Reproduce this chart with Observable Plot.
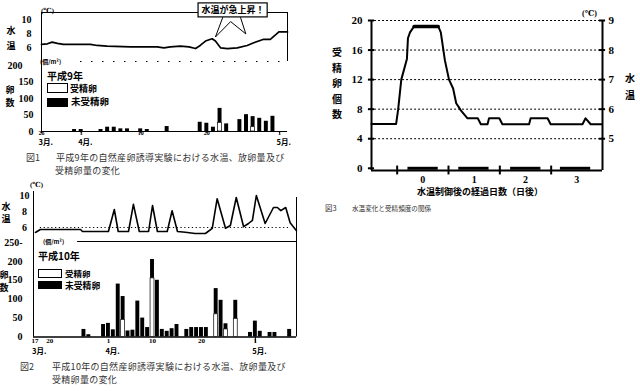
<!DOCTYPE html>
<html><head><meta charset="utf-8">
<script src="https://cdn.jsdelivr.net/npm/d3@7"></script>
<script src="https://cdn.jsdelivr.net/npm/@observablehq/plot@0.6"></script>
<style>
body{margin:0;background:#fff;}
#page{position:relative;width:640px;height:391px;overflow:hidden;background:#fff;}
</style></head><body><div id="page"></div>
<script>
// ---------- Figure 1 (平成9年) : day 0 = 3月26日 ----------
const f1TempDay = [0,0.9,1.6,2.4,3.3,7.4,8.4,9.9,13.5,17.5,18.5,19.5,21,22.3,23.3,24,24.8,25.8,26.3,27.1,28.1,29.6,31.1,32.1,33.6,34.6,35.9,37.2];
const f1Temp    = [6.44,6.53,6.77,6.58,6.44,6.44,6.29,6.19,6.09,6.09,5.94,6.09,6.19,6.09,5.85,6.29,6.92,7.25,6.92,5.94,5.85,5.94,6.29,6.67,7.17,7.17,8.23,8.23];
const f1EggDay   = [5,6,9,10,11,12,13,15,16,19,24,25,26,27,28,30,31,32,33,34,35];
const f1EggTotal = [6,6,6,13,13,8,8,8,6,15,28,25,13,70,23,36,51,45,40,31,46];
const f1EggFert  = [0,0,0,0,0,0,0,0,0,0,0,0,0,26,0,0,0,13,0,0,0];
const f1TempTicks = [6,8,10];
const f1EggTicks = [0,50,100,150];
const f1EggTop = [200];
const f1TickDays = [0,6,15,25,36];
const f1TickNum = ["26","1","10","20","1"];
const f1TickMonth = ["3月.","4月.","","","5月."];
const calloutText = "水温が急上昇！";
const callBox = {x1:23.75,x2:34.2,y1:10.3,y2:12.3};
const callTail = [{d:27.4,t:10.27},{d:26.3,t:7.5},{d:28.6,t:9.7},{d:30.9,t:7.94},{d:30.1,t:10.27}];

// ---------- Figure 2 (平成10年) : day 0 = 3月17日 ----------
const f2TempDay = [0.1,1.1,9.3,9.7,15,16.2,17,19.1,20.1,21.3,23.2,24,25,27,28,29.1,30.7,32.7,34.8,36.2,37.2,38.9,39.9,41.1,42.6,43.6,44.4,45.2,47,48.7,49.5,50.2,51.2,52.1,53.4];
const f2Temp    = [5.38,5.75,5.75,5.5,5.5,8.25,5.5,5.5,8.9,5.5,5.5,8.75,5.5,5.5,8.1,5.5,5.4,5.25,5.25,5.9,9.6,5.9,6.25,9.75,6.1,6.5,6.9,10,6.5,8.5,8.5,8.1,8.5,6.6,5.6];
const f2EggDay   = [10,11,14,15,16,17,18,19,20,21,22,23,24,25,26,27,28,29,31,32,33,34,35,37,38,39,41,44,45,46,48,49,52];
const f2EggTotal = [20,6,33,36,19,140,107,16,18,95,50,25,205,150,20,15,22,33,20,25,25,25,25,128,97,35,97,12,42,15,12,12,20];
const f2EggFert  = [0,0,0,0,0,0,45,0,0,0,0,0,155,0,0,0,0,0,0,0,0,0,0,60,0,20,48,0,0,0,0,0,0];
const f2TempTicks = [6,8,10];
const f2EggTicks = [0,50,100,150,200];
const f2EggTop = [250];
const f2TickDays = [0,3,15,24,34,45];
const f2TickNum = ["17","20","1","10","20","1"];
const f2TickMonth = ["3月.","","4月.","","","5月."];

// ---------- Figure 3 : 水温制御後の経過日数 ----------
const f3Day  = [-0.5,-0.02,0.02,0.08,0.19,0.21,0.25,0.33,0.80,0.85,0.93,1.01,1.09,1.15,1.2,1.24,1.37,1.57,1.63,1.76,1.79,1.99,2.05,2.57,2.6,2.93,2.99,3.61,3.67,3.77,3.99];
const f3Temp = [5.5,5.5,6.0,7.0,7.7,8.4,8.6,8.8,8.8,8.6,7.65,7.0,6.7,6.2,6.07,5.96,5.69,5.69,5.49,5.49,5.69,5.69,5.49,5.49,5.69,5.69,5.49,5.49,5.69,5.49,5.49];
const f3ZeroStart = [0.21,1.2,2.21,3.18];
const f3ZeroEnd   = [0.8,1.79,2.8,3.77];
const f3CountTicks = [0,4,8,12,16,20];
const f3TempTicks = [5,6,7,8,9];
const f3DayTicks = [0,1,2,3];
const f3DayLabels = ["0","1","2","3"];

// ---------- helpers ----------
const SERIF = '"Liberation Serif","DejaVu Serif",serif';
const JP = '"Noto Sans CJK JP",sans-serif';
const page = document.getElementById("page");
function mk(o){ return Plot.plot(Object.assign({style:{background:"transparent",overflow:"visible",fontFamily:SERIF,color:"black"}}, o)); }
function place(svg,l,t,z=2){ svg.style.position="absolute"; svg.style.left=l+"px"; svg.style.top=t+"px"; svg.style.maxWidth="none"; svg.style.background="transparent"; svg.style.zIndex=z; page.appendChild(svg); return svg; }
function lab(text,x,y,size,o={}){
  const d=document.createElement("div"); d.textContent=text;
  d.style.cssText=`position:absolute;z-index:${o.z||1};left:${x}px;top:${y}px;font-size:${size}px;line-height:1;white-space:nowrap;`+
   `font-weight:${o.w||"bold"};color:${o.c||"#000"};font-family:${o.f||JP};transform:translate(${o.ax??0}%,-50%);letter-spacing:${o.ls||0}px;`;
  page.appendChild(d);
}
function box(x,y,w,h,fill){ const d=document.createElement("div");
  d.style.cssText=`position:absolute;z-index:1;left:${x}px;top:${y}px;width:${w}px;height:${h}px;box-sizing:border-box;border:1px solid #000;background:${fill};`;
  page.appendChild(d); }
const num = {fontSize:10,fontWeight:"bold",fontFamily:SERIF,fill:"black"};

// ---------- text labels ----------
lab("(℃)",41,11,7,{f:SERIF});
lab("水",11,30,9,{ax:-50}); lab("温",11,45,9,{ax:-50});
lab("(個/m²)",40,62,6);
lab("卵",10,89,9,{ax:-50}); lab("数",10,102,9,{ax:-50});
lab("平成9年",47,76,10);
box(47,83,21,10,"#fff"); lab("受精卵",70,88,9);
box(47,98,21,9,"#000"); lab("未受精卵",71,102,9.5);
lab("図1",26,156.5,9,{w:"normal",c:"#333"});
lab("平成9年の自然産卵誘導実験における水温、放卵量及び",56,156.5,9,{w:"normal",c:"#333",ls:0.3});
lab("受精卵量の変化",55,169.5,9,{w:"normal",c:"#333",ls:0.3});

lab("(℃)",30,185,7,{f:SERIF});
lab("水",6,206,9,{ax:-50}); lab("温",6,218,9,{ax:-50});
lab("(個/m²)",43,242,6);
lab("卵",4,274,9,{ax:-50}); lab("数",4,287,9,{ax:-50});
lab("平成10年",38,256,10);
box(38,269,24,9,"#fff"); lab("受精卵",65,272.5,8.5);
box(38,281,24,8,"#000"); lab("未受精卵",65,285.5,8.8);
lab("図2",20,366,9,{w:"normal",c:"#333"});
lab("平成10年の自然産卵誘導実験における水温、放卵量及び",52,366,9,{w:"normal",c:"#333",ls:0.3});
lab("受精卵量の変化",52,379,9,{w:"normal",c:"#333",ls:0.3});

lab("(℃)",582,14,8,{f:SERIF});
["受","精","卵","個","数"].forEach((c,i)=>lab(c,337,52+i*15.5,10,{ax:-50}));
lab("水",630,78,10,{ax:-50}); lab("温",630,95,10,{ax:-50});
lab("水温制御後の経過日数（日後）",480,191,9,{ax:-50});
lab("図3",325,208,7.5,{w:"normal",c:"#333"});
lab("水温変化と受精頻度の関係",352,208,6.6,{w:"normal",c:"#333"});

// ---------- Figure 1 : temperature ----------
const f1T = f1TempDay.map((d,i)=>({d,t:f1Temp[i]}));
place(mk({width:300,height:61,marginLeft:41,marginRight:13,marginTop:12,marginBottom:0,
  x:{domain:[0,37.2],axis:null}, y:{domain:[4,11],axis:null},
  marks:[
    Plot.ruleY([11]),
    Plot.ruleX([0,37.2]),
    Plot.line(f1T,{x:"d",y:"t",strokeWidth:1.7}),
    Plot.text(f1TempTicks,{x:()=>0,y:d=>d,text:d=>String(d),dx:-10,textAnchor:"end",...num}),
    Plot.rect([callBox],{x1:"x1",x2:"x2",y1:"y1",y2:"y2",fill:"white",stroke:"black",strokeWidth:1.2}),
    Plot.line(callTail,{x:"d",y:"t",strokeWidth:1}),
    Plot.text([callBox],{x:b=>(b.x1+b.x2)/2,y:b=>(b.y1+b.y2)/2,text:()=>calloutText,fontSize:9,fontWeight:"bold",fontFamily:JP})
  ]}),0,0);

// ---------- Figure 1 : eggs ----------
const f1B = f1EggDay.map((d,i)=>({d,total:f1EggTotal[i],fert:f1EggFert[i]}));
const f1X = f1TickDays.map((d,i)=>({d,n:f1TickNum[i],m:f1TickMonth[i]}));
place(mk({width:300,height:95,marginLeft:41,marginRight:13,marginTop:6,marginBottom:19,
  x:{domain:[0,37.2],axis:null}, y:{domain:[0,212],axis:null},
  marks:[
    Plot.ruleY([212],{x1:()=>5.9,x2:()=>37.2,strokeDasharray:"1.5,9.5",strokeWidth:1.2}),
    Plot.ruleY([0]),
    Plot.ruleX([0]),
    Plot.rect(f1B,{x1:b=>b.d-0.3,x2:b=>b.d+0.3,y1:b=>b.fert,y2:b=>b.total,fill:"black"}),
    Plot.rect(f1B.filter(b=>b.fert>0),{x1:b=>b.d-0.3,x2:b=>b.d+0.3,y1:()=>0,y2:b=>b.fert,fill:"white",stroke:"black",strokeWidth:0.7}),
    Plot.ruleX(f1X,{x:"d",y1:()=>-7,y2:()=>0}),
    Plot.text(f1X,{x:"d",y:()=>0,text:"n",dy:2,fontSize:6,fontWeight:"bold"}),
    Plot.text(f1X,{x:"d",y:()=>0,text:"m",dy:11.5,dx:-3,textAnchor:"start",fontSize:7.5,fontWeight:"bold",fontFamily:JP}),
    Plot.text(f1EggTicks,{x:()=>0,y:d=>d,text:d=>String(d),dx:-8,textAnchor:"end",...num}),
    Plot.text(f1EggTop,{x:()=>0,y:d=>d,text:d=>String(d),dx:-19,textAnchor:"end",...num})
  ]}),0,55,3);

// ---------- Figure 2 : temperature ----------
const f2T = f2TempDay.map((d,i)=>({d,t:f2Temp[i]}));
place(mk({width:300,height:56,marginLeft:33,marginRight:4,marginTop:6,marginBottom:0,
  x:{domain:[-0.3,53.4],axis:null}, y:{domain:[4.25,10.5],axis:null},
  marks:[
    Plot.ruleX([-0.3]),
    Plot.ruleX([53.4],{y1:()=>4.25,y2:()=>9.75}),
    Plot.ruleY([4.25],{x1:()=>8.7,x2:()=>53.4}),
    Plot.ruleY([6],{x1:()=>1.1,x2:()=>52.1,strokeDasharray:"1.2,2.6"}),
    Plot.line(f2T,{x:"d",y:"t",strokeWidth:1.6}),
    Plot.text(f2TempTicks,{x:()=>-0.3,y:d=>d,text:d=>String(d),dx:-9,textAnchor:"middle",...num})
  ]}),0,185);

// ---------- Figure 2 : eggs ----------
const f2B = f2EggDay.map((d,i)=>({d,total:f2EggTotal[i],fert:f2EggFert[i]}));
const f2X = f2TickDays.map((d,i)=>({d,n:f2TickNum[i],m:f2TickMonth[i]}));
place(mk({width:300,height:115,marginLeft:33,marginRight:4,marginTop:0,marginBottom:19.5,
  x:{domain:[-0.3,53.4],axis:null}, y:{domain:[0,252.6],axis:null},
  marks:[
    Plot.ruleX([-0.3,53.4]),
    Plot.ruleY([0],{strokeWidth:1.5}),
    Plot.rect(f2B,{x1:b=>b.d-0.4,x2:b=>b.d+0.4,y1:b=>b.fert,y2:b=>b.total,fill:"black"}),
    Plot.rect(f2B.filter(b=>b.fert>0),{x1:b=>b.d-0.4,x2:b=>b.d+0.4,y1:()=>0,y2:b=>b.fert,fill:"white",stroke:"black",strokeWidth:0.7}),
    Plot.ruleX(f2X.filter(t=>t.m==="5月."),{x:"d",y1:()=>-16,y2:()=>0}),
    Plot.text(f2X,{x:"d",y:()=>0,text:"n",dy:4,fontSize:7,fontWeight:"bold"}),
    Plot.text(f2X,{x:"d",y:()=>0,text:"m",dy:14.5,dx:-3,textAnchor:"start",fontSize:7.5,fontWeight:"bold",fontFamily:JP}),
    Plot.text(f2EggTicks,{x:()=>-0.3,y:d=>d,text:d=>String(d),dx:-11,textAnchor:"end",...num}),
    Plot.text(f2EggTop,{x:()=>-0.3,y:d=>d,text:d=>d+"-",dx:-11,textAnchor:"end",...num})
  ]}),0,241);

// ---------- Figure 3 ----------
const f3 = f3Day.map((d,i)=>({d,c:(f3Temp[i]-4)*4}));
const f3Plateau = f3.filter(p=>p.d>=0.3&&p.d<=0.82);
const f3Zero = f3ZeroStart.map((s,i)=>({s,e:f3ZeroEnd[i]}));
const f3XL = f3DayTicks.map((d,i)=>({d,l:f3DayLabels[i]}));
place(mk({width:320,height:200,marginLeft:51,marginRight:38,marginTop:20,marginBottom:30,
  x:{domain:[-0.5,4],axis:null}, y:{domain:[-0.3,20],axis:null},
  marks:[
    Plot.ruleY([4,8,12,16,20],{x1:()=>-0.44,x2:()=>3.95,strokeDasharray:"2,2",strokeWidth:1}),
    Plot.ruleX([-0.5,4],{strokeWidth:2}),
    Plot.ruleY([-0.3],{strokeWidth:2}),
    Plot.ruleY(f3CountTicks,{x1:()=>-0.56,x2:()=>-0.44,strokeWidth:2}),
    Plot.ruleY(f3TempTicks,{y:t=>(t-4)*4,x1:()=>3.94,x2:()=>4.06,strokeWidth:2}),
    Plot.ruleX(f3DayTicks,{y1:()=>-0.9,y2:()=>0.3,strokeWidth:2}),
    Plot.text(f3CountTicks,{x:()=>-0.5,y:d=>d,text:d=>String(d),dx:-9,textAnchor:"end",fontSize:11,fontWeight:"bold"}),
    Plot.text(f3TempTicks,{x:()=>4,y:t=>(t-4)*4,text:t=>String(t),dx:6,textAnchor:"start",fontSize:11,fontWeight:"bold"}),
    Plot.text(f3XL,{x:d=>d.d+0.5,y:()=>-0.3,text:"l",dy:9,fontSize:10,fontWeight:"bold"}),
    Plot.ruleY(f3Zero,{y:()=>0,x1:"s",x2:"e",strokeWidth:3}),
    Plot.line(f3,{x:"d",y:"c",strokeWidth:2}),
    Plot.line(f3Plateau,{x:"d",y:"c",strokeWidth:3.5})
  ]}),320,0);
</script></body></html>
